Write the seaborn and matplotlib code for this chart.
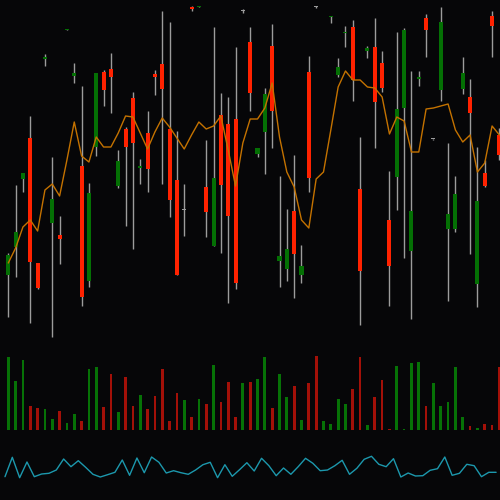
import numpy as np
import pandas as pd
import matplotlib
matplotlib.use("Agg")
import matplotlib.pyplot as plt
import seaborn as sns

BG = "#060608"
UP = "#047004"
DOWN = "#ff2200"
VOL_UP = "#067206"
VOL_DOWN = "#a31008"
WICK = "#9c9c9c"
MA_COLOR = "#c47200"
OSC_COLOR = "#1c98ad"

# price data (one entry per session)
opens = [65, 93, 161, 202, 77, 281, 117, 105, 310, 264, 174, 59, 193, 268, 271, 154,
         211, 242, 172, 207, 266, 276, 211, 160, 130, 333, 333, 153, 94, 225, 216, 221,
         329, 298, 186, 208, 294, 79, 71, 129, 65, 268, 333.3, 350, 323, 265, 307, 313,
         151, 289, 293, 277, 120, 163, 232, 89, 261, 322, 201, 250, 111, 111, 251, 243,
         56, 167, 324, 205]
highs = [87, 155, 167, 224, 77, 286, 183, 124, 311.5, 277, 254, 157, 267, 270, 287, 190,
         213, 248, 181, 229, 270, 329, 318, 209, 156, 334, 334.5, 200, 313, 247, 243, 293,
         331, 313, 192, 252, 316, 164, 131, 185, 95, 284, 334, 355, 324, 282, 314, 320,
         203, 294, 322, 289, 169, 308, 312, 269, 269, 326, 201.5, 333, 197, 164, 283, 261,
         193, 180, 329, 212]
lows = [23, 63, 148, 17, 51, 274, 3, 76, 310, 257, 34, 53, 184, 234, 227, 152,
        114, 91, 156, 148, 245, 156, 123, 65, 104, 329, 333, 103, 94, 87, 37, 51,
        327, 229, 183, 166, 192, 53, 59, 42, 57, 148, 332, 348, 317, 263, 293, 239,
        15, 282, 192, 248, 34, 130, 82, 21, 254, 283, 200.5, 239, 39, 108, 246, 86,
        33, 153, 283, 180]
closes = [85, 108, 167, 78, 52, 283, 141, 101, 311.5, 267, 43, 147, 267, 250, 263, 179,
          193, 197, 174, 171, 263, 251, 140, 65, 130, 331, 334.5, 128, 162, 155, 124, 57,
          329, 247, 192, 246, 229, 84, 91, 86, 74, 162, 333, 352, 324, 273, 308.5, 260,
          69, 292, 238, 252, 74, 231, 310, 129, 263, 310, 201, 318, 126, 146, 267, 227,
          139, 154, 314, 185]
moving_avg = [77, 92, 113, 120, 109, 150, 156, 144, 180, 218, 184, 178, 203, 193, 193, 207,
              224, 223, 207, 191, 208, 222, 213, 202, 191, 205, 218, 211, 214, 224, 190, 154,
              197, 221, 221, 232, 257, 203, 168, 153, 120, 112, 161, 168, 210, 253, 269, 260,
              260, 253, 252, 243, 206, 223, 219, 188, 188, 231, 232, 234, 236, 210, 198, 205,
              168, 177, 214, 205]
volume = [72.7, 48.7, 70, 24, 22, 20.7, 11, 19, 7, 16.3, 8.7, 61, 63.3, 22.7, 56, 18,
          53, 24, 35, 21, 34.3, 61, 9.3, 37, 30, 13, 31, 26.3, 65, 28.3, 48.3, 12.7,
          47, 47.7, 51, 72.7, 21.7, 56, 33, 44.3, 9.7, 47.3, 74, 9.3, 6.3, 30.7, 26, 40.7,
          73, 5.3, 32.7, 50.3, 1, 64.3, 0.7, 67, 68.3, 24.3, 47, 24, 28, 63.3, 13.3, 4,
          2, 6.3, 5, 63]
oscillator = [13.3, 32.7, 12.3, 28, 13.3, 16, 16.7, 20, 31, 23.3, 29.3, 22.7, 15.7, 13, 15.3, 17.7,
              30, 14.7, 32, 17.3, 33, 27.7, 17, 19.3, 17.3, 15.7, 20, 25.3, 27.7, 12.3, 25.3, 13.7,
              20.3, 27.3, 19, 31.7, 24.3, 14.3, 22, 15.7, 23.3, 31.7, 26.7, 19.3, 20, 24.3, 29.7, 15.7,
              21.7, 30.7, 33.7, 25.7, 23.3, 31.3, 13, 17, 14, 14.3, 19.7, 21.3, 33, 14.7, 16.7, 25.7,
              24.3, 13.3, 17.7, 17.7]

df = pd.DataFrame({"open": opens, "high": highs, "low": lows, "close": closes,
                   "ma": moving_avg, "volume": volume, "osc": oscillator})
df["idx"] = np.arange(len(df))
df["up"] = df["close"] >= df["open"]
df["doji"] = (df["close"] - df["open"]).abs() < 0.5

sns.set_theme(style="dark", rc={"axes.facecolor": BG, "figure.facecolor": BG,
                                "savefig.facecolor": BG})

fig = plt.figure(figsize=(5, 5), dpi=100)
ax_price = fig.add_axes([0, 0.32, 1, 0.68])
ax_vol = fig.add_axes([0, 0.14, 1, 0.16])
ax_osc = fig.add_axes([0, 0.02, 1, 0.10])

xlim = (-1.13, 67.08)

# candles
ax_price.vlines(df["idx"], df["low"], df["high"], color=WICK, lw=1, zorder=1)
body_bottom = df[["open", "close"]].min(axis=1)
body_height = (df["close"] - df["open"]).abs().clip(lower=0.9)
body_colors = np.where(df["doji"], WICK, np.where(df["up"], UP, DOWN))
ax_price.bar(df["idx"], body_height, bottom=body_bottom, width=0.55,
             color=body_colors, linewidth=0, zorder=2)
sns.lineplot(data=df, x="idx", y="ma", ax=ax_price, color=MA_COLOR, lw=1, zorder=3)
ax_price.set_xlim(*xlim)
ax_price.set_ylim(0, 340)

# volume
vol_colors = np.where(df["up"], VOL_UP, VOL_DOWN)
ax_vol.bar(df["idx"], df["volume"], width=0.37, color=vol_colors, linewidth=0)
ax_vol.set_xlim(*xlim)
ax_vol.set_ylim(0, 80)

# oscillator
sns.lineplot(data=df, x="idx", y="osc", ax=ax_osc, color=OSC_COLOR, lw=1)
ax_osc.set_xlim(xlim[0] + 0.45, xlim[1] + 0.45)
ax_osc.set_ylim(0, 50)

for ax in (ax_price, ax_vol, ax_osc):
    ax.set_facecolor(BG)
    ax.set_xticks([])
    ax.set_yticks([])
    ax.set_xlabel("")
    ax.set_ylabel("")
    for s in ax.spines.values():
        s.set_visible(False)

fig.savefig("out.png", dpi=100, facecolor=BG)
